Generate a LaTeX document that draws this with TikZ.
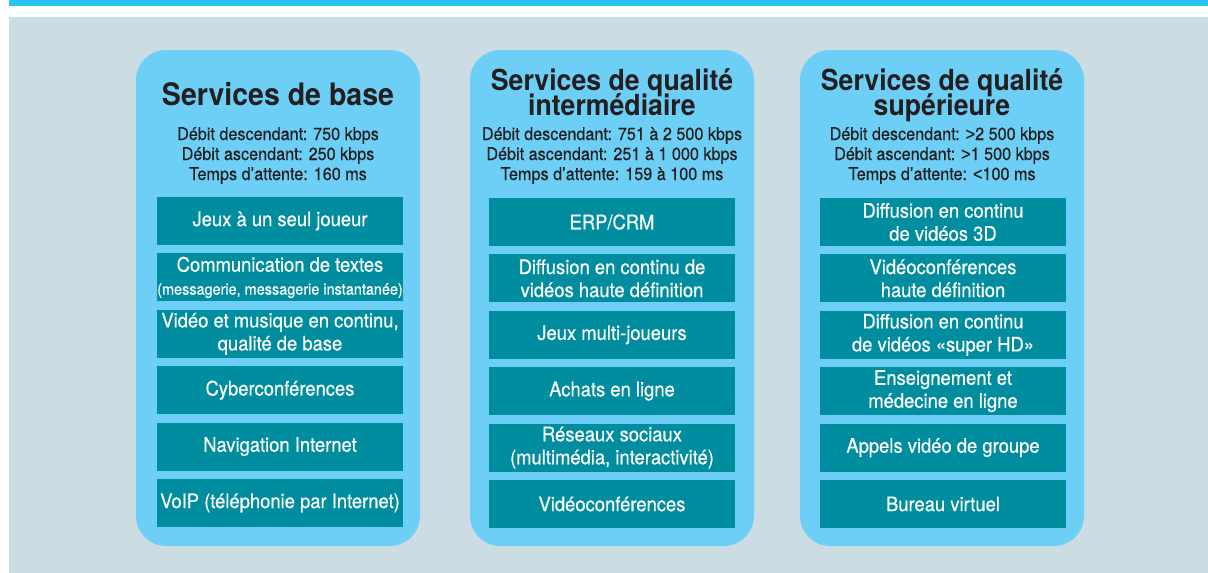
\documentclass[tikz,border=0pt]{standalone}
\usepackage{fontspec}
\setmainfont{TeX Gyre Heros}[FakeStretch=0.92, UprightFeatures={FakeBold=0.4}]
\newfontfamily\signfont{Liberation Sans}[FakeStretch=0.92, FakeBold=0.4]
\usetikzlibrary{positioning}
\definecolor{bandcyan}{RGB}{39,196,244}
\definecolor{bggray}{RGB}{203,220,227}
\definecolor{panelblue}{RGB}{109,207,246}
\definecolor{boxteal}{RGB}{0,141,160}
\definecolor{inkdark}{RGB}{35,31,32}
\newcommand{\gtsign}{{\signfont >}}
\newcommand{\ltsign}{{\signfont <}}
\newcommand{\panelhead}{\bfseries\fontsize{29}{25}\selectfont\lineskiplimit -30pt\relax}
\tikzset{
  panel/.style={fill=panelblue, rounded corners=30pt, minimum width=284pt, minimum height=496pt, inner sep=0pt},
  service/.style={fill=boxteal, text=white, minimum width=246pt, minimum height=48pt, inner sep=0pt, align=center, font=\fontsize{20}{23}\selectfont},
  title/.style={text=inkdark, font=\panelhead, align=center, inner sep=0pt, anchor=base},
  rates/.style={text=inkdark, font=\fontsize{17.6}{20}\selectfont, align=center, inner sep=0pt, anchor=base}
}

\begin{document}
\begin{tikzpicture}[x=1pt, y=-1pt]
    \useasboundingbox (0,0) rectangle (1208,573);
    \fill[white] (0,0) rectangle (1208,573);
    \fill[bandcyan] (9,0) rectangle (1208,5.7);
    \fill[bggray] (9,16.5) rectangle (1208,573);

    % Basic services
    \node[panel] (base) at (278,298) {};
    \node[title, font=\bfseries\fontsize{31}{25}\selectfont] (baseTitle) at (278,105) {Services de base};
    \node[rates] (baseRates) at (278,180) {Débit descendant: 750 kbps\\Débit ascendant: 250 kbps\\Temps d’attente: 160 ms};
    \node[service] (base1) at (280,221) {Jeux à un seul joueur};
    \node[service, below=8pt of base1] (base2) {Communication de textes\\{\fontsize{15.7}{18}\selectfont(messagerie, messagerie instantanée)}};
    \node[service, below=8pt of base2] (base3) {Vidéo et musique en continu,\\qualité de base};
    \node[service, below=8pt of base3] (base4) {Cyberconférences};
    \node[service, below=8pt of base4] (base5) {Navigation Internet};
    \node[service, below=8pt of base5] (base6) {VoIP (téléphonie par Internet)};

    % Intermediate services
    \node[panel] (mid) at (612,298) {};
    \node[title] (midTitle) at (612,115) {Services de qualité\\intermédiaire};
    \node[rates] (midRates) at (612,180) {Débit descendant: 751 à 2 500 kbps\\Débit ascendant: 251 à 1 000 kbps\\Temps d’attente: 159 à 100 ms};
    \node[service] (mid1) at (612,222) {ERP/CRM};
    \node[service, below=8pt of mid1] (mid2) {Diffusion en continu de\\vidéos haute définition};
    \node[service, below=8pt of mid2] (mid3) {Jeux multi-joueurs};
    \node[service, below=8pt of mid3] (mid4) {Achats en ligne};
    \node[service, below=8pt of mid4] (mid5) {Réseaux sociaux\\(multimédia, interactivité)};
    \node[service, below=8pt of mid5] (mid6) {Vidéoconférences};

    % Superior services
    \node[panel] (top) at (942,298) {};
    \node[title] (topTitle) at (942,115) {Services de qualité\\supérieure};
    \node[rates] (topRates) at (942,180) {Débit descendant: \gtsign2 500 kbps\\Débit ascendant: \gtsign1 500 kbps\\Temps d’attente: \ltsign100 ms};
    \node[service] (top1) at (943,222) {Diffusion en continu\\de vidéos 3D};
    \node[service, below=8pt of top1] (top2) {Vidéoconférences\\haute définition};
    \node[service, below=8pt of top2] (top3) {Diffusion en continu\\de vidéos «super HD»};
    \node[service, below=8pt of top3] (top4) {Enseignement et\\médecine en ligne};
    \node[service, below=8pt of top4] (top5) {Appels vidéo de groupe};
    \node[service, below=8pt of top5] (top6) {Bureau virtuel};
\end{tikzpicture}
\end{document}
